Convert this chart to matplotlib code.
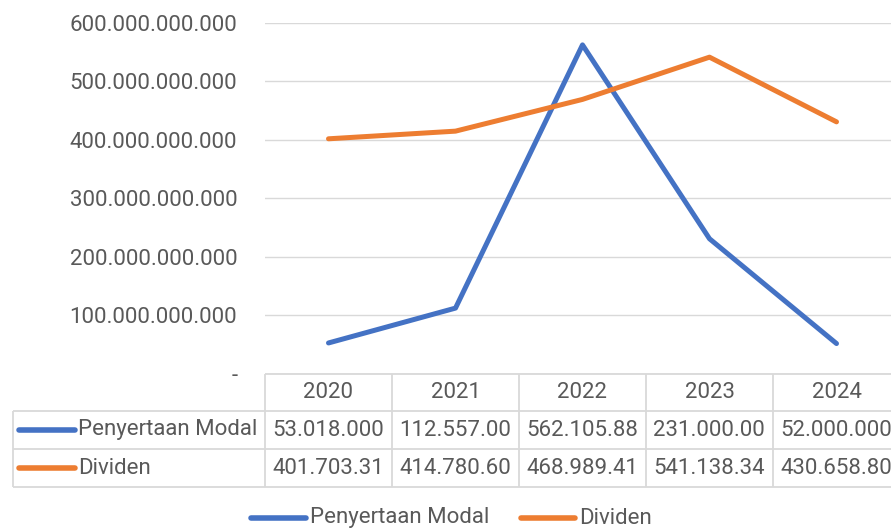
import matplotlib
matplotlib.use("Agg")
import matplotlib.pyplot as plt
from matplotlib.ticker import FuncFormatter, MultipleLocator

plt.rcParams['font.family'] = ['Roboto', 'DejaVu Sans']

years = ['2020', '2021', '2022', '2023', '2024']
series_names = ['Penyertaan Modal', 'Dividen']
penyertaan = [53_018_000_000, 112_557_000_000, 562_105_880_000, 231_000_000_000, 52_000_000_000]
dividen = [401_703_310_000, 414_780_600_000, 468_989_410_000, 541_138_340_000, 430_658_800_000]
colors = ['#4472C4', '#ED7D31']

W, H = 891, 531
TXT = '#595959'
GRID = '#D9D9D9'
FS = 16

def fmt(v):
    return f"{v:,.0f}".replace(",", ".")

fig = plt.figure(figsize=(W / 100, H / 100), dpi=100)

# plot area in pixels: x 265..900, y 22.7..374
x0, x1, ytop, ybot = 265, 900, 22.7, 374
ax = fig.add_axes([x0 / W, (H - ybot) / H, (x1 - x0) / W, (ybot - ytop) / H])
ax.set_xlim(-0.5, len(years) - 0.5)
ax.set_ylim(0, 600e9)
ax.yaxis.set_major_locator(MultipleLocator(100e9))
ax.yaxis.set_major_formatter(FuncFormatter(lambda v, p: '-' if v == 0 else fmt(v)))
ax.tick_params(axis='y', length=0, pad=20, labelsize=FS, labelcolor=TXT)
ax.set_xticks([])
ax.grid(axis='y', color=GRID, lw=1.0)
ax.set_axisbelow(True)
for s in ax.spines.values():
    s.set_visible(False)

xs = range(len(years))
for vals, c in zip([penyertaan, dividen], colors):
    ax.plot(xs, vals, color=c, lw=3.6, solid_capstyle='round', solid_joinstyle='round')

# overlay in pixel coordinates for the data table and legend
ov = fig.add_axes([0, 0, 1, 1])
ov.set_xlim(0, W)
ov.set_ylim(H, 0)
ov.axis('off')

fig.canvas.draw()
centers = [ax.transData.transform((i, 0))[0] for i in xs]
colw = centers[1] - centers[0]
edges = [centers[0] - colw / 2 + colw * i for i in range(len(years) + 1)]
rows = [374, 411, 449, 487]
left = 13
tl = dict(color=GRID, lw=1.3, solid_capstyle='butt')

ov.plot([edges[0], edges[-1]], [rows[0]] * 2, **tl)
for r in rows[1:]:
    ov.plot([left, edges[-1]], [r, r], **tl)
for e in edges:
    ov.plot([e, e], [rows[0], rows[-1]], **tl)
ov.plot([left, left], [rows[1], rows[-1]], **tl)

for c, yr in zip(centers, years):
    ov.text(c, (rows[0] + rows[1]) / 2, yr, ha='center', va='center', fontsize=FS, color=TXT)

for k, (name, vals, col) in enumerate(zip(series_names, [penyertaan, dividen], colors)):
    yc = (rows[k + 1] + rows[k + 2]) / 2
    ov.plot([19, 75], [yc, yc], color=col, lw=4, solid_capstyle='round')
    ov.text(78, yc, name, ha='left', va='center', fontsize=FS, color=TXT)
    for e, v in zip(edges[:-1], vals):
        ov.text(e + 7, yc, fmt(v)[:10], ha='left', va='center', fontsize=FS, color=TXT)

# legend at the bottom
ly = 518
ov.plot([251, 306], [ly, ly], color=colors[0], lw=4, solid_capstyle='round')
ov.text(310, ly, series_names[0], ha='left', va='center', fontsize=FS, color=TXT)
ov.plot([521, 575], [ly, ly], color=colors[1], lw=4, solid_capstyle='round')
ov.text(579, ly, series_names[1], ha='left', va='center', fontsize=FS, color=TXT)

fig.savefig('out.png', dpi=100)
